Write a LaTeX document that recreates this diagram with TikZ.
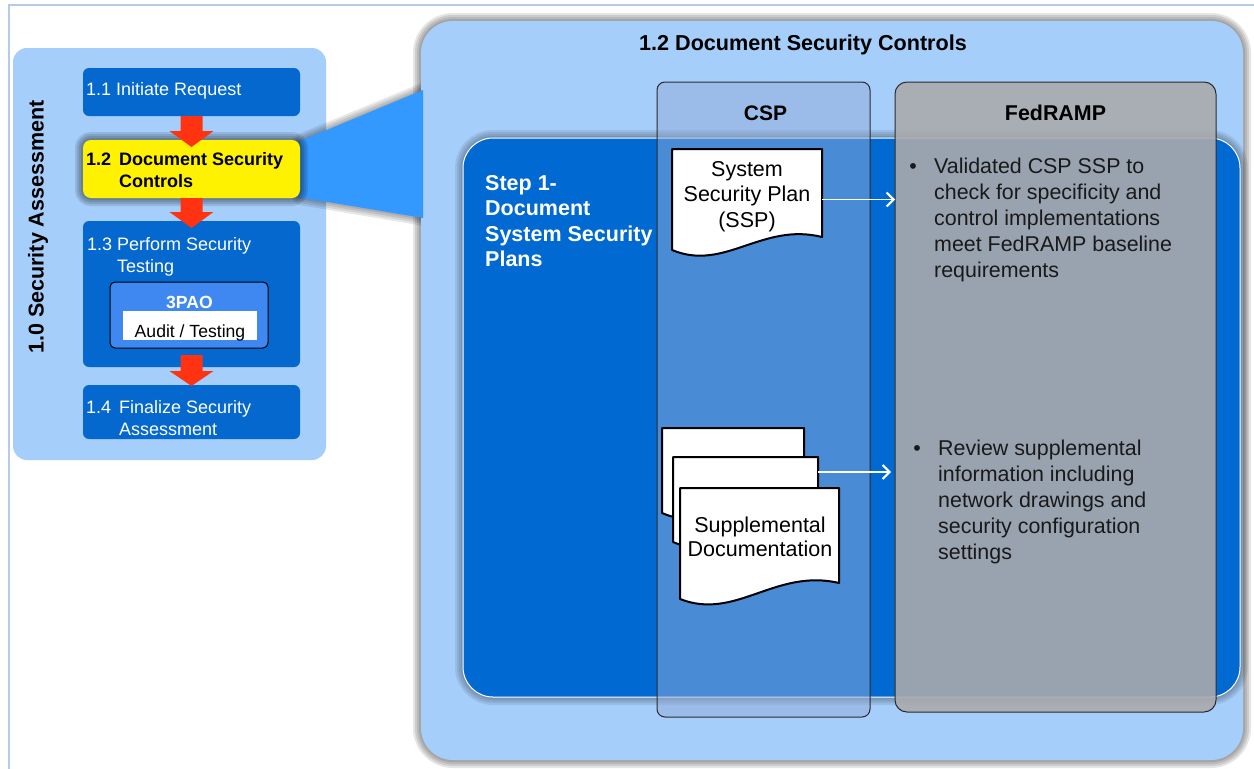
\documentclass[tikz,border=0pt]{standalone}
\usepackage{fontspec}
\setmainfont{Liberation Sans}
\usetikzlibrary{arrows.meta,calc}
\definecolor{frameline}{HTML}{B8CBE6}
\definecolor{paleblue}{HTML}{A6CEFA}
\definecolor{boxblue}{HTML}{0468CF}
\definecolor{panelblue}{HTML}{006AD2}
\definecolor{calloutblue}{HTML}{3399FF}
\definecolor{tpao}{HTML}{3F88F2}
\definecolor{redarr}{HTML}{FF3311}
\definecolor{cspfill}{HTML}{92ACD7}
\definecolor{fedfill}{HTML}{AAAAAD}
\definecolor{colline}{HTML}{2A2A2A}
\newcommand\fsz[2]{\fontsize{#1}{#2}\selectfont}
\newcommand\softshade[3]{\foreach \w in {16,12,8,4}{\draw[#1, line width=\w pt, draw=black, draw opacity=#2] #3;}}
\newcommand\docshape[6]{\filldraw[#1] (#2,#3) -- (#4,#3) -- (#4,#6) .. controls ({#2+0.6*(#4-#2)},{#6-15}) and ({#2+0.35*(#4-#2)},{#5+22}) .. (#2,#5) -- cycle;}
\newcommand\redarrow[3]{\fill[redarr] ($(#1)+(-11,0)$) -- ($(#1)+(11,0)$) -- ($(#2)+(11,-#3)$) -- ($(#2)+(22,-#3)$) -- (#2) -- ($(#2)+(-22,-#3)$) -- ($(#2)+(-11,-#3)$) -- cycle;}
\begin{document}
\begin{tikzpicture}[x=1pt,y=-1pt,
  box/.style={inner sep=0pt, outer sep=0pt, anchor=north west},
  stepbox/.style={box, fill=boxblue, rounded corners=6pt, minimum width=217pt},
  doc/.style={fill=white, draw=black, line width=2pt, line join=round},
  whitearrow/.style={draw=white, line width=1.3pt, -{Straight Barb[length=7pt,width=14pt,line width=2pt]}},
  lefttxt/.style={font=\fsz{18}{22}, text=white, inner sep=0pt, anchor=base west},
  maintxt/.style={font=\fsz{21.5}{25.5}, inner sep=0pt},
  bulltxt/.style={font=\fsz{21.4}{26}, text=black!90, inner sep=0pt, anchor=base west}
]
\useasboundingbox (0,0) rectangle (1254,769);
\fill[white] (0,0) rectangle (1254,769);
\draw[frameline, line width=2pt] (1254,5) -- (8.5,5) -- (8.5,769);

% ---------- left panel ----------
\node[box, fill=paleblue, rounded corners=14pt, minimum width=313pt, minimum height=412pt] (lp) at (13,48) {};
\node[rotate=90, anchor=base, font=\bfseries\fsz{21.5}{25}, inner sep=0pt] (lptitle) at (43.5,227) {1.0 Security Assessment};

\node[stepbox, minimum height=48pt] (b11) at (83,68) {};
\node[lefttxt] (t11) at (86,95) {1.1 Initiate Request};

\node[stepbox, minimum height=146pt] (b13) at (83,221) {};
\node[lefttxt] (t13n) at (87,250) {1.3};
\node[lefttxt] (t13) at (117,250) {\parbox[t]{180pt}{\raggedright Perform Security\\Testing}};
\node[box, fill=tpao, draw=black, line width=1pt, rounded corners=5pt, minimum width=158pt, minimum height=66pt] (tpaobox) at (110,282) {};
\node[anchor=base, font=\bfseries\fsz{17.6}{20}, text=white, inner sep=0pt] (tpaot) at (189.5,308) {3PAO};
\node[box, fill=white, minimum width=134pt, minimum height=29pt] (audit) at (123,311) {};
\node[anchor=base, font=\fsz{17.6}{20}, inner sep=0pt] (auditt) at (190,337) {Audit / Testing};

\node[stepbox, minimum height=54pt] (b14) at (83,385) {};
\node[lefttxt] (t14n) at (86,413) {1.4};
\node[lefttxt] (t14) at (119,413) {\parbox[t]{180pt}{\raggedright Finalize Security\\Assessment}};

% callout anchor point (right edge of step 1.2)
\coordinate (cb) at (300,169);
\softshade{line join=round}{0.09}{($(cb)+(0,-27)$) -- ($(cb)+(130,-81)$) -- ($(cb)+(130,50)$) -- ($(cb)+(0,28)$) -- cycle}

% ---------- big panel ----------
\softshade{rounded corners=32pt}{0.1}{(421,21) rectangle (1243,760)}
\node[box, fill=paleblue, rounded corners=32pt, minimum width=822pt, minimum height=739pt] (big) at (421,21) {};
\node[maintxt, anchor=base, font=\bfseries\fsz{21.6}{25}] (bigtitle) at (803,50) {1.2 Document Security Controls};

% callout fill
\fill[calloutblue] ($(cb)+(-2,-27)$) -- ($(big.west |- cb)+(2,-79)$) -- ($(big.west |- cb)+(2,49)$) -- ($(cb)+(-2,28)$) -- cycle;

% yellow box
\softshade{rounded corners=8pt}{0.11}{(83,140) rectangle (300,198)}
\node[stepbox, fill=yellow, minimum height=58pt, rounded corners=8pt] (b12) at (83,140) {};
\node[lefttxt, text=black, font=\bfseries\fsz{18}{22}] (t12n) at (86,165) {1.2};
\node[lefttxt, text=black, font=\bfseries\fsz{18}{22}] (t12) at (119,165) {\parbox[t]{180pt}{\raggedright Document Security\\Controls}};

% red arrows
\redarrow{b11.south}{$(b12.north)+(0,7)$}{16}
\redarrow{b12.south}{$(b13.north)+(0,7)$}{16}
\redarrow{$(b13.south)+(0,-12)$}{$(b14.north)+(0,1)$}{15}

% inner panel
\softshade{rounded corners=30pt}{0.08}{(463,138) rectangle (1240,697)}
\node[box, fill=panelblue, draw=white, line width=1pt, rounded corners=30pt, minimum width=777pt, minimum height=559pt] (inner) at (463,138) {};
\node[maintxt, anchor=base west, text=white, font=\bfseries\fsz{21.5}{25.6}] (steptxt) at (485,190) {\parbox[t]{200pt}{\raggedright Step 1-\\Document\\System Security\\Plans}};

% columns
\node[box, fill=cspfill, fill opacity=0.5, draw=colline, line width=1pt, rounded corners=8pt, minimum width=213pt, minimum height=635pt] (csp) at (657,82) {};
\node[box, fill=fedfill, fill opacity=0.9, draw=colline, line width=1pt, rounded corners=12pt, minimum width=321pt, minimum height=630pt] (fed) at (895,82) {};
\node[maintxt, anchor=base, font=\bfseries\fsz{21}{25}] (csph) at (765.5,120) {CSP};
\node[maintxt, anchor=base, font=\bfseries\fsz{21.4}{25}] (fedh) at (1055.5,120) {FedRAMP};

% SSP document
\docshape{doc}{672}{149}{822}{250}{237}
\node[box, minimum width=150pt, minimum height=101pt] (ssp) at (672,149) {};
\node[maintxt, anchor=base] (ssptxt) at (747,176) {\parbox[t]{150pt}{\centering System\\Security Plan\\(SSP)}};

% supplemental documents
\docshape{doc}{662}{428}{804}{513}{500}
\docshape{doc}{673}{457}{818}{542}{528}
\node[box, minimum width=145pt, minimum height=85pt] (supmid) at (673,457) {};
\docshape{doc}{680}{488}{839}{599}{583}
\node[box, minimum width=159pt, minimum height=111pt] (supfront) at (680,488) {};
\node[maintxt, anchor=base, font=\fsz{21.5}{24}] (suptxt) at (760,532.7) {\parbox[t]{160pt}{\centering Supplemental\\Documentation}};

% arrows
\draw[whitearrow] (ssp.east) -- (ssp.east -| fed.west);
\coordinate (supout) at ($(supmid.north east)+(0,15)$);
\draw[whitearrow] (supout) -- ($(supout -| fed.west)+(-4,0)$);

% bullets
\node[bulltxt, anchor=base] (bul1) at (913,173.5) {•};
\node[bulltxt] (fed1) at (934,173.5) {\parbox[t]{280pt}{\raggedright Validated CSP SSP to\\check for specificity and\\control implementations\\meet FedRAMP baseline\\requirements}};
\node[bulltxt, anchor=base] (bul2) at (917,455) {•};
\node[bulltxt] (fed2) at (938,455) {\parbox[t]{280pt}{\raggedright Review supplemental\\information including\\network drawings and\\security configuration\\settings}};
\end{tikzpicture}
\end{document}
